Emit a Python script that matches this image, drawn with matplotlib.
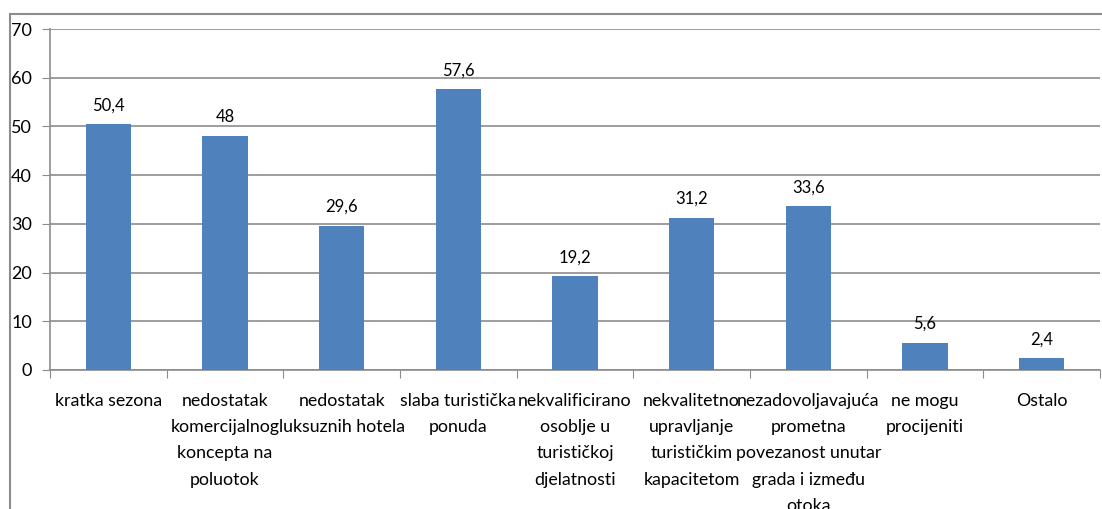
import matplotlib
matplotlib.use("Agg")
import matplotlib.pyplot as plt
from matplotlib.patches import Rectangle

categories = [
    "kratka sezona",
    "nedostatak\nkomercijalnog\nkoncepta na\npoluotok",
    "nedostatak\nluksuznih hotela",
    "slaba turistička\nponuda",
    "nekvalificirano\nosoblje u\nturističkoj\ndjelatnosti",
    "nekvalitetno\nupravljanje\nturističkim\nkapacitetom",
    "nezadovoljavajuća\nprometna\npovezanost unutar\ngrada i između\notoka",
    "ne mogu\nprocijeniti",
    "Ostalo",
]
values = [50.4, 48, 29.6, 57.6, 19.2, 31.2, 33.6, 5.6, 2.4]
yticks = [0, 10, 20, 30, 40, 50, 60, 70]

plt.rcParams['font.family'] = ['Lato', 'DejaVu Sans']

W, H = 1102, 509
fig = plt.figure(figsize=(W/100, H/100), dpi=100)
ax = fig.add_axes([50/W, 1-370/H, 1050/W, 341/H])

n = len(values)
x = list(range(n))
ax.bar(x, values, width=0.39, color="#4F81BD", zorder=3)
for xi, v in zip(x, values):
    lbl = f"{v:g}".replace(".", ",")
    ax.annotate(lbl, (xi, v), xytext=(0, 8), textcoords="offset points",
                ha="center", va="bottom", fontsize=12, color="black")

ax.set_xlim(-0.5, n-0.5)
ax.set_ylim(0, 70)
ax.set_yticks(yticks)
ax.set_yticklabels([str(t) for t in yticks], fontsize=13)
ax.yaxis.grid(True, color="#8C8C8C", linewidth=1.2, zorder=0)
ax.set_axisbelow(True)

ax.set_xticks([i + 0.5 for i in range(-1, n)], minor=False)
ax.set_xticklabels([])
ax.tick_params(axis='x', length=6, color="#8C8C8C", direction='out')
ax.tick_params(axis='y', length=6, color="#8C8C8C", direction='out', pad=7)

for xi, c in zip(x, categories):
    ax.text(xi, -0.068, c, transform=ax.get_xaxis_transform(), ha="center", va="top",
            fontsize=12.8, linespacing=1.78, clip_on=False)

for s in ["top", "right"]:
    ax.spines[s].set_visible(False)
for s in ["left", "bottom"]:
    ax.spines[s].set_color("#8C8C8C")
    ax.spines[s].set_linewidth(1.2)

fig.patches.append(Rectangle((10/W, -0.1), 1.2, 1 - 14/H + 0.1, transform=fig.transFigure,
                             fill=False, edgecolor="#8C8C8C", linewidth=1.5))

fig.savefig("out.png", dpi=100)
